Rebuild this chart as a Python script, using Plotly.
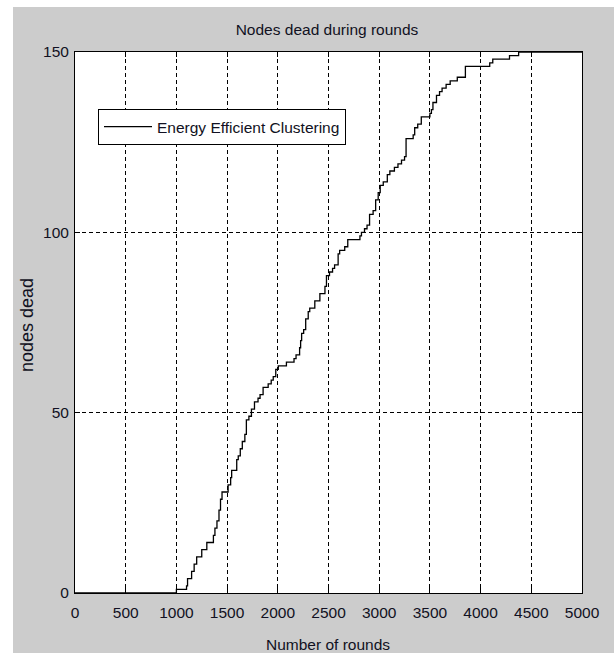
import plotly.graph_objects as go

# Step data: rounds at which the dead-node count changes, and the count after the step
rounds = [0, 1000, 1100, 1110, 1150, 1175, 1200, 1250, 1300, 1365, 1380, 1400, 1420, 1435,
          1450, 1510, 1535, 1545, 1595, 1610, 1630, 1650, 1675, 1690, 1715, 1740, 1770,
          1805, 1825, 1855, 1905, 1935, 1955, 1980, 2005, 2085, 2160, 2180, 2215, 2225,
          2235, 2255, 2275, 2300, 2315, 2365, 2415, 2465, 2480, 2510, 2540, 2560, 2595,
          2610, 2660, 2690, 2810, 2825, 2855, 2880, 2905, 2940, 2965, 2990, 3010, 3040,
          3080, 3105, 3150, 3185, 3220, 3250, 3265, 3335, 3350, 3380, 3415, 3500, 3515,
          3530, 3565, 3595, 3620, 3660, 3700, 3770, 3850, 4090, 4120, 4285, 4375, 5000]
nodes_dead = [0, 1, 2, 4, 6, 8, 10, 12, 14, 16, 18, 20, 23, 26,
              28, 30, 32, 34, 37, 38, 40, 42, 44, 48, 49, 51, 53,
              54, 55, 57, 58, 59, 60, 62, 63, 64, 65, 66, 68, 70,
              72, 73, 76, 78, 79, 81, 83, 85, 88, 89, 90, 91, 94,
              95, 96, 98, 99, 100, 101, 102, 105, 106, 109, 111, 113, 114,
              116, 117, 118, 119, 120, 121, 126, 127, 129, 130, 132, 133, 134,
              136, 138, 139, 140, 141, 142, 143, 146, 147, 148, 149, 150, 150]

x_ticks = [0, 500, 1000, 1500, 2000, 2500, 3000, 3500, 4000, 4500, 5000]
y_ticks = [0, 50, 100, 150]

title_text = "Nodes dead during rounds"
x_label = "Number of rounds"
y_label = "nodes dead"
series_name = "Energy Efficient Clustering"

FONT = "Liberation Sans, Arial, sans-serif"
TXT = "#111122"

W, H = 614, 653
L, R, T, B = 75, 582, 52, 593
pw, ph = R - L, B - T

def px(xp):
    return (xp - L) / pw

def py(yp):
    return (B - yp) / ph

fig = go.Figure()
fig.add_trace(go.Scatter(
    x=rounds, y=nodes_dead, mode="lines", line_shape="hv",
    line=dict(color="black", width=1.3), name=series_name, showlegend=True))

axis_common = dict(
    showline=True, linecolor="black", linewidth=1, mirror="ticks",
    ticks="inside", ticklen=5, tickcolor="black", tickwidth=1,
    showgrid=True, gridcolor="black", gridwidth=1, griddash="4px,3px",
    zeroline=False, tickfont=dict(family=FONT, size=15.5, color=TXT),
)

fig.update_layout(
    width=W, height=H,
    margin=dict(l=L, r=W - R, t=T, b=H - B, autoexpand=False),
    paper_bgcolor="#cccccc", plot_bgcolor="white",
    title=dict(text=title_text, x=px(327), xref="paper", xanchor="center",
               y=(H - 30) / H, yref="container", yanchor="middle",
               font=dict(family=FONT, size=15.5, color=TXT)),
    xaxis=dict(range=[0, 5000], tickvals=x_ticks, ticktext=[str(v) for v in x_ticks],
               ticklabelstandoff=5, **axis_common),
    yaxis=dict(range=[0, 150], tickvals=y_ticks, ticktext=[str(v) for v in y_ticks],
               ticklabelstandoff=2, **axis_common),
    legend=dict(x=px(98), y=py(109), xanchor="left", yanchor="top",
                bgcolor="white", bordercolor="black", borderwidth=1,
                font=dict(family=FONT, size=15.5, color=TXT), itemwidth=48),
    showlegend=True,
)

# white strips at the top and left edge of the picture
fig.add_shape(type="rect", xref="paper", yref="paper", x0=px(0), x1=px(W), y0=py(7), y1=py(0),
              fillcolor="white", line_width=0, layer="below")
fig.add_shape(type="rect", xref="paper", yref="paper", x0=px(0), x1=px(13), y0=py(H), y1=py(0),
              fillcolor="white", line_width=0, layer="below")

fig.add_annotation(text=x_label, x=px(328), y=py(644), xref="paper", yref="paper",
                   showarrow=False, xanchor="center", yanchor="middle",
                   font=dict(family=FONT, size=15.5, color=TXT))
fig.add_annotation(text=y_label, x=px(27), y=py(325), xref="paper", yref="paper",
                   showarrow=False, xanchor="center", yanchor="middle", textangle=-90,
                   font=dict(family=FONT, size=18, color=TXT))

fig.write_html("out.html", config={"displayModeBar": False},
               post_script="document.body.style.margin='0px';document.body.style.overflow='hidden';")
